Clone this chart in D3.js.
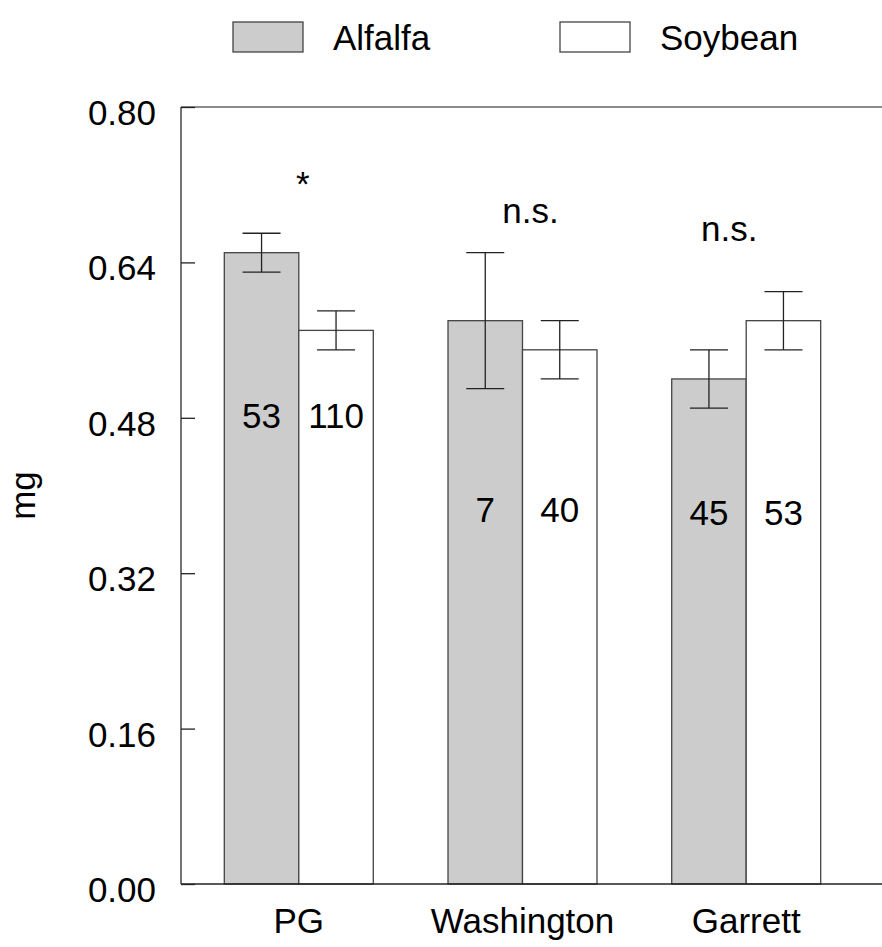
<!DOCTYPE html>
<html>
<head>
<meta charset="utf-8">
<script src="https://cdn.jsdelivr.net/npm/d3@7"></script>
<style>
  body { margin: 0; background: #fff; }
  text { font-family: "Liberation Sans", Arial, sans-serif; fill: #000; }
</style>
</head>
<body>
<svg width="882" height="947"></svg>
<script>
const sites = ["PG", "Washington", "Garrett"];
const crops = ["Alfalfa", "Soybean"];
const alfalfaMean = [0.65, 0.58, 0.52];
const alfalfaErr  = [0.02, 0.07, 0.03];
const soybeanMean = [0.57, 0.55, 0.58];
const soybeanErr  = [0.02, 0.03, 0.03];
const alfalfaN = [53, 7, 45];
const soybeanN = [110, 40, 53];
const signif = ["*", "n.s.", "n.s."];
const yTicks = [0, 0.16, 0.32, 0.48, 0.64, 0.80];

const fill = { Alfalfa: "#cccccc", Soybean: "#ffffff" };
const stroke = "#444";
const fs = 35;

const svg = d3.select("svg");
const mLeft = 181, mRight = 864, mTop = 107, mBottom = 884;

const x = d3.scaleBand().domain(sites).range([mLeft, mRight])
    .paddingInner(0.334).paddingOuter(0.1936);
const xs = d3.scaleBand().domain(crops).range([0, x.bandwidth()]);
const y = d3.scaleLinear().domain([0, 0.8]).range([mBottom, mTop]);

const bars = [];
sites.forEach((s, i) => {
  bars.push({ site: s, crop: "Alfalfa", v: alfalfaMean[i], e: alfalfaErr[i], n: alfalfaN[i] });
  bars.push({ site: s, crop: "Soybean", v: soybeanMean[i], e: soybeanErr[i], n: soybeanN[i] });
});

// frame top line runs off the right edge
svg.append("line").attr("x1", mLeft).attr("x2", 890).attr("y1", mTop).attr("y2", mTop)
    .attr("stroke", "#666").attr("stroke-width", 1.5);

// bars
svg.selectAll("rect.bar").data(bars).enter().append("rect")
    .attr("class", "bar")
    .attr("x", d => x(d.site) + xs(d.crop))
    .attr("y", d => y(d.v))
    .attr("width", xs.bandwidth())
    .attr("height", d => y(0) - y(d.v))
    .attr("fill", d => fill[d.crop])
    .attr("stroke", stroke).attr("stroke-width", 1.3);

// error bars
const cap = 19;
const cx = d => x(d.site) + xs(d.crop) + xs.bandwidth() / 2;
const eb = svg.selectAll("g.err").data(bars).enter().append("g").attr("class", "err")
    .attr("stroke", "#222").attr("stroke-width", 1.3);
eb.append("line")
    .attr("x1", cx).attr("x2", cx)
    .attr("y1", d => y(d.v + d.e)).attr("y2", d => y(d.v - d.e));
[1, -1].forEach(k => {
  eb.append("line")
    .attr("x1", d => cx(d) - cap).attr("x2", d => cx(d) + cap)
    .attr("y1", d => y(d.v + k * d.e)).attr("y2", d => y(d.v + k * d.e));
});

// sample sizes inside bars
const nLabelY = { PG: 0.4695, Washington: 0.373, Garrett: 0.370 };
svg.selectAll("text.n").data(bars).enter().append("text")
    .attr("class", "n")
    .attr("x", cx)
    .attr("y", d => y(nLabelY[d.site]))
    .attr("text-anchor", "middle")
    .attr("font-size", fs)
    .text(d => d.n);

// significance marks
const sigX = [4, 8, -17], sigY = [0.708, 0.681, 0.662];
svg.selectAll("text.sig").data(signif).enter().append("text")
    .attr("class", "sig")
    .attr("x", (d, i) => x(sites[i]) + x.bandwidth() / 2 + sigX[i])
    .attr("y", (d, i) => y(sigY[i]))
    .attr("text-anchor", "middle")
    .attr("font-size", fs)
    .text(d => d);

// y axis
const yAxis = d3.axisLeft(y).tickValues(yTicks).tickFormat(d3.format(".2f"))
    .tickSize(-14).tickPadding(25);
const gY = svg.append("g").attr("transform", `translate(${mLeft},0)`).call(yAxis);
gY.select(".domain").attr("stroke", "#444").attr("stroke-width", 1.5)
    .attr("d", `M0,${mBottom}V${mTop}`);
gY.selectAll(".tick line").attr("stroke", "#222").attr("stroke-width", 1.3);
gY.selectAll(".tick text").attr("font-size", fs).attr("font-family", "Liberation Sans, Arial, sans-serif")
    .attr("fill", "#000").attr("dy", "0.5em");

// x axis
const xAxis = d3.axisBottom(x).tickSize(0).tickPadding(24);
const gX = svg.append("g").attr("transform", `translate(0,${mBottom})`).call(xAxis);
gX.select(".domain").attr("stroke", "#222").attr("stroke-width", 1.5)
    .attr("d", `M${mLeft},0H890`);
gX.selectAll(".tick text").attr("font-size", fs).attr("font-family", "Liberation Sans, Arial, sans-serif")
    .attr("fill", "#000").attr("dy", "0.71em");

// y label
svg.append("text")
    .attr("transform", `translate(35,${(mTop + mBottom) / 2}) rotate(-90)`)
    .attr("text-anchor", "middle")
    .attr("font-size", fs)
    .text("mg");

// legend
const legX = [233, 560];
const lg = svg.selectAll("g.leg").data(crops).enter().append("g").attr("class", "leg")
    .attr("transform", (d, i) => `translate(${legX[i]},22)`);
lg.append("rect").attr("width", 70).attr("height", 30)
    .attr("fill", d => fill[d]).attr("stroke", stroke).attr("stroke-width", 1.3);
lg.append("text").attr("x", 100).attr("y", 28).attr("font-size", fs).text(d => d);
</script>
</body>
</html>
